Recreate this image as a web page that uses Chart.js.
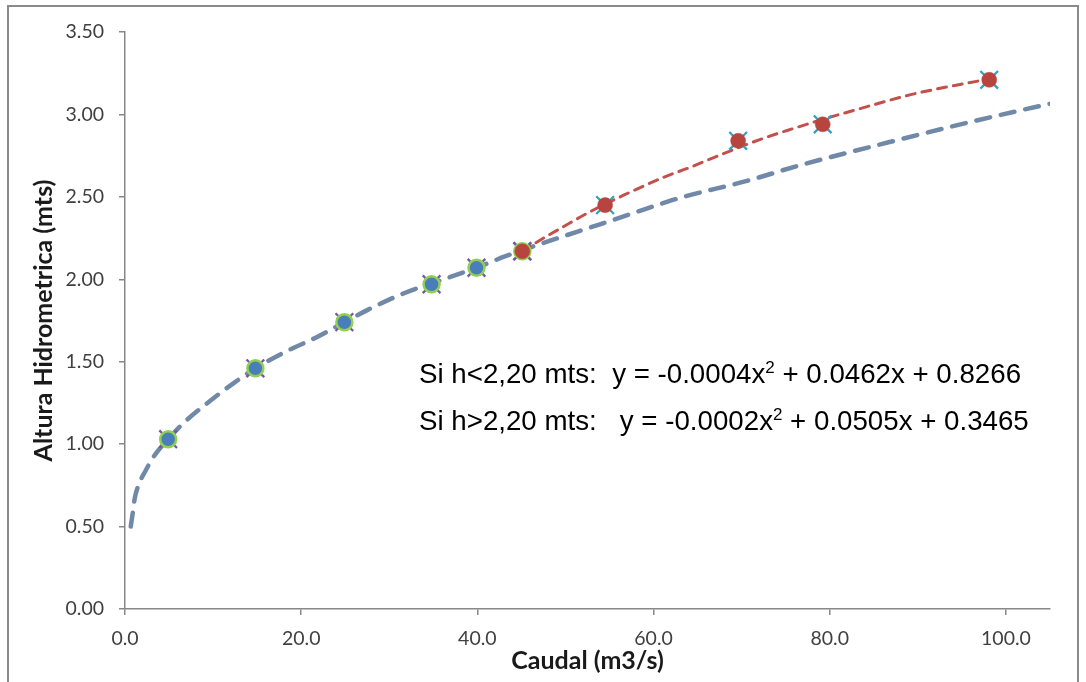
<!DOCTYPE html>
<html><head><meta charset="utf-8">
<script src="https://cdn.jsdelivr.net/npm/chart.js@4.4.0/dist/chart.umd.min.js"></script>
<style>html,body{margin:0;padding:0;background:#fff}#wrap{position:relative;width:1086px;height:682px}</style>
</head><body><div id="wrap"><canvas id="c" width="1086" height="682"></canvas></div>
<script>
// Observed points
const caudalBajo = [4.9, 14.8, 24.9, 34.8, 39.9, 45.1];
const alturaBajo = [1.03, 1.46, 1.74, 1.97, 2.07, 2.17];
const caudalAlto = [45.1, 54.5, 69.6, 79.2, 98.1];
const alturaAlto = [2.17, 2.45, 2.84, 2.94, 3.21];
// Trend curves
const tendBajoX = [0.65, 0.9, 1.1, 1.6, 2.35, 3.2, 4.9, 6.6, 9.3, 12.3, 14.8, 18.4, 21.8, 24.9, 27.5, 31.6, 34.8, 38.1, 39.9, 43.2, 51.3, 54.0, 60.4, 63.4, 70.6, 76.7, 86.9, 96.8, 105];
const tendBajoY = [0.50, 0.59, 0.67, 0.76, 0.84, 0.92, 1.03, 1.126, 1.247, 1.369, 1.46, 1.565, 1.65, 1.74, 1.813, 1.914, 1.975, 2.036, 2.07, 2.14, 2.288, 2.335, 2.45, 2.50, 2.597, 2.693, 2.834, 2.965, 3.065];
const tendAltoX = [45.1, 47.2, 49.8, 52.8, 56.6, 61.2, 64.2, 66.9, 72.2, 75.9, 79.2, 83.1, 89.2, 92.2, 95.6, 98.1];
const tendAltoY = [2.17, 2.24, 2.32, 2.41, 2.51, 2.62, 2.68, 2.74, 2.85, 2.915, 2.97, 3.03, 3.12, 3.155, 3.19, 3.215];
// Axis ticks
const xTicks = [0, 20, 40, 60, 80, 100];
const yTicks = [0, 0.5, 1, 1.5, 2, 2.5, 3, 3.5];
// Annotation text
const eqPrefix = ['Si h<2,20 mts:  y = -0.0004x', 'Si h>2,20 mts:   y = -0.0002x'];
const eqSuffix = [' + 0.0462x + 0.8266', ' + 0.0505x + 0.3465'];

const pts = (xs, ys) => xs.map((x, i) => ({x: x, y: ys[i]}));

const framePlugin = {
  id: 'frame',
  beforeDraw(chart) {
    const c = chart.ctx;
    c.save();
    c.fillStyle = '#fff';
    c.fillRect(0, 0, chart.width, chart.height);
    c.strokeStyle = '#8a8a8a';
    c.lineWidth = 2;
    c.strokeRect(8, 6, 1070, 700);
    c.restore();
  }
};

const eqPlugin = {
  id: 'eqs',
  afterDraw(chart) {
    const c = chart.ctx;
    c.save();
    c.fillStyle = '#000';
    c.textBaseline = 'alphabetic';
    const baselines = [383, 430];
    const big = '27.7px "Liberation Sans", Arial, sans-serif';
    const small = '17px "Liberation Sans", Arial, sans-serif';
    for (let i = 0; i < 2; i++) {
      let x = 419;
      const y = baselines[i];
      c.font = big;
      c.fillText(eqPrefix[i], x, y);
      x += c.measureText(eqPrefix[i]).width;
      c.font = small;
      c.fillText('2', x, y - 10);
      x += c.measureText('2').width;
      c.font = big;
      c.fillText(eqSuffix[i], x, y);
    }
    c.restore();
  }
};

const tickFont = {family: 'Lato', size: 19.5};
const titleFont = {family: 'Lato', size: 25, weight: 'bold'};
const axisColor = '#878787';

new Chart(document.getElementById('c').getContext('2d'), {
  type: 'scatter',
  data: {
    datasets: [
      {label: 'h>2,20', data: pts(caudalAlto, alturaAlto), pointRadius: 7.5, pointHoverRadius: 7.5,
       backgroundColor: '#B8443F', borderColor: '#B8443F', borderWidth: 0.5, order: 0},
      {label: 'h<2,20', data: pts(caudalBajo, alturaBajo), pointRadius: 8, pointHoverRadius: 8,
       backgroundColor: '#4A7EBB', borderColor: '#92D050', borderWidth: 2.5, order: 1},
      {label: 'xb', data: pts(caudalBajo, alturaBajo), pointStyle: 'crossRot', pointRadius: 12.5,
       borderColor: '#7657A3', backgroundColor: '#7657A3', borderWidth: 2.3, order: 2},
      {label: 'xa', data: pts(caudalAlto, alturaAlto), pointStyle: 'crossRot', pointRadius: 12.5,
       borderColor: '#2FA3C3', backgroundColor: '#2FA3C3', borderWidth: 2.3, order: 3},
      {label: 'trend alto', data: pts(tendAltoX, tendAltoY), showLine: true, pointRadius: 0,
       borderColor: '#C4504C', borderWidth: 3, borderDash: [9, 7], borderCapStyle: 'round',
       cubicInterpolationMode: 'monotone', order: 4},
      {label: 'trend bajo', data: pts(tendBajoX, tendBajoY), showLine: true, pointRadius: 0,
       borderColor: '#7189A9', borderWidth: 4.5, borderDash: [14, 11], borderCapStyle: 'round',
       cubicInterpolationMode: 'monotone', order: 5}
    ]
  },
  options: {
    responsive: false,
    animation: false,
    events: [],
    layout: {padding: {top: 32, right: 36, left: 0, bottom: 0}},
    plugins: {legend: {display: false}, tooltip: {enabled: false}},
    scales: {
      x: {
        type: 'linear', min: 0, max: 105,
        afterBuildTicks: s => { s.ticks = xTicks.map(v => ({value: v})); },
        afterFit: s => { s.height = 73; },
        ticks: {callback: v => Number(v).toFixed(1), font: tickFont, color: '#404040', padding: 12,
                maxRotation: 0, autoSkip: false},
        grid: {drawOnChartArea: false, tickLength: 6, color: axisColor, lineWidth: 1.5},
        border: {color: axisColor, width: 1.5},
        title: {display: true, text: 'Caudal (m3/s)', font: titleFont, color: '#1a1a1a',
                padding: {top: 0, bottom: 6}}
      },
      y: {
        type: 'linear', min: 0, max: 3.5,
        afterBuildTicks: s => { s.ticks = yTicks.map(v => ({value: v})); },
        afterFit: s => { s.width = 125; },
        ticks: {callback: v => Number(v).toFixed(2), font: tickFont, color: '#404040', padding: 15, autoSkip: false},
        grid: {drawOnChartArea: false, tickLength: 6, color: axisColor, lineWidth: 1.5},
        border: {color: axisColor, width: 1.5},
        title: {display: true, text: 'Altura Hidrometrica (mts)', font: titleFont, color: '#1a1a1a',
                padding: {top: 29, bottom: 0}}
      }
    }
  },
  plugins: [framePlugin, eqPlugin]
});
</script>
</body></html>
